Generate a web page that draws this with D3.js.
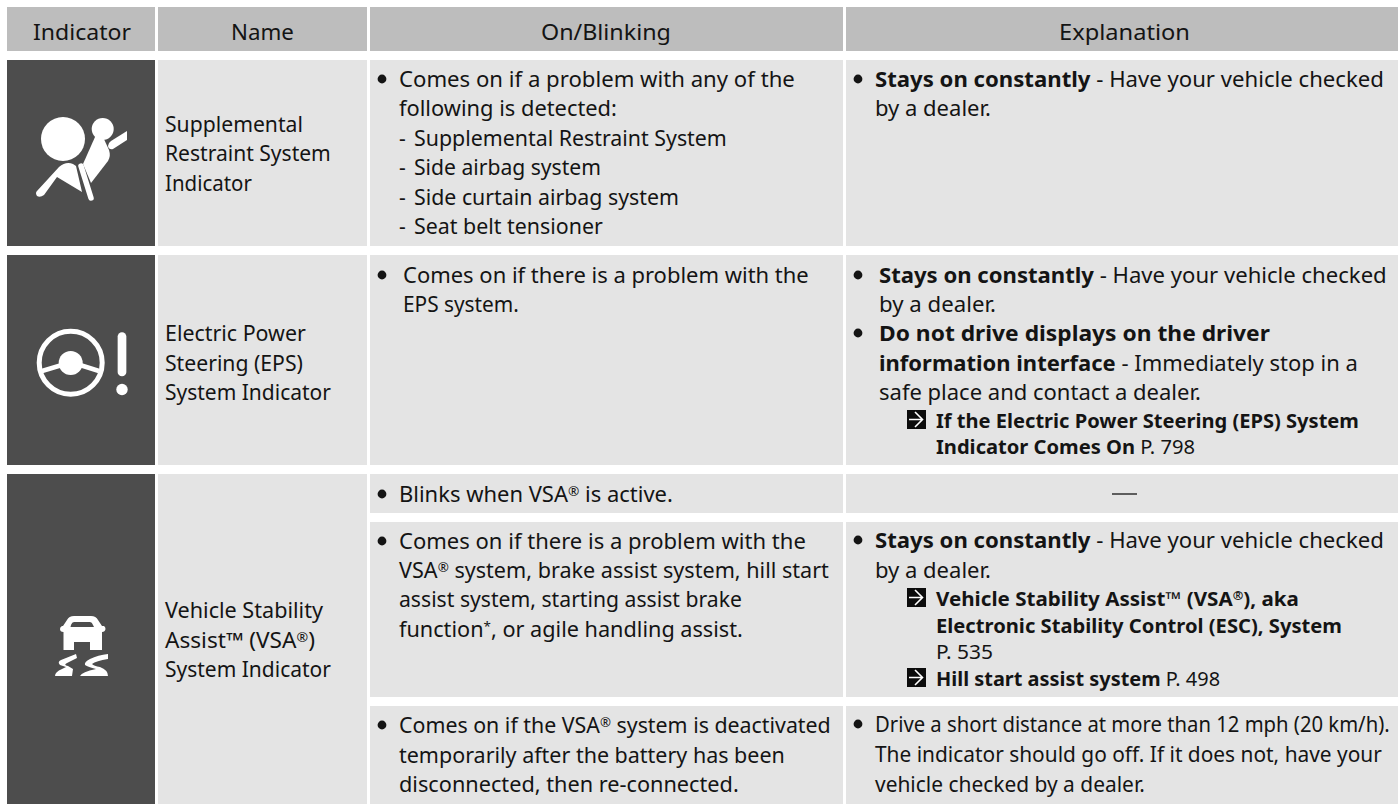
<!DOCTYPE html>
<html><head><meta charset="utf-8">
<script src="https://cdn.jsdelivr.net/npm/d3@7"></script>
<style>html,body{margin:0;padding:0;background:#fff}svg{display:block}</style>
</head><body><svg id="c" width="1398" height="804"></svg>
<script>
const headers = ["Indicator","Name","On/Blinking","Explanation"];
const names = [
  ["Supplemental","Restraint System","Indicator"],
  ["Electric Power","Steering (EPS)","System Indicator"],
  ["Vehicle Stability","Assist™ (VSA®)","System Indicator"]
];
const onBlinking = [
  ["• Comes on if a problem with any of the","following is detected:","- Supplemental Restraint System","- Side airbag system","- Side curtain airbag system","- Seat belt tensioner"],
  ["• Comes on if there is a problem with the","EPS system."],
  ["• Blinks when VSA® is active."],
  ["• Comes on if there is a problem with the","VSA® system, brake assist system, hill start","assist system, starting assist brake","function*, or agile handling assist."],
  ["• Comes on if the VSA® system is deactivated","temporarily after the battery has been","disconnected, then re-connected."]
];
const explanation = [
  ["• **Stays on constantly** - Have your vehicle checked","by a dealer."],
  ["• **Stays on constantly** - Have your vehicle checked","by a dealer.","• **Do not drive displays on the driver**","**information interface** - Immediately stop in a","safe place and contact a dealer.",">**If the Electric Power Steering (EPS) System**","|**Indicator Comes On** P. 798"],
  ["—"],
  ["• **Stays on constantly** - Have your vehicle checked","by a dealer.",">**Vehicle Stability Assist™ (VSA®), aka**","|**Electronic Stability Control (ESC), System**","|P. 535",">**Hill start assist system** P. 498"],
  ["• Drive a short distance at more than 12 mph (20 km/h).","The indicator should go off. If it does not, have your","vehicle checked by a dealer."]
];

// ---- layout (pixels measured on the page, separate from the content above)
const svg = d3.select("#c");
const FONT = "'Noto Sans', sans-serif", FS = 21, FSREF = 19.2, INK = "#141414";
const colX = [[7,155],[158,367],[370,843],[846,1398]];
const rowY = [[60,246],[255,465],[474,804]];
const subY = [[60,246],[255,465],[474,513],[522,697],[706,804]];
const headerEnds = [[33,131],[231,294],[541,671],[1059,1190]];
const nameBase = [[131.5,161,190.5],[341,371,400],[618,648,677]];
const nameEnds = [[303,331,252],[306,303,331],[323,315,331]];
const obX = [399,403,399,399,399];
const obBase = [[87,116,146,175,204.5,234],[283,312],[502],[549,578,607,637],[733,763,792]];
const obEnds = [[795,617,727,601,679,603],[809,519],[673],[806,829,742,743],[831,785,739]];
const exX = [875,879,0,875,875];
const exBase = [[87,116],[283,312,341,371,400,428,454],[],[548,578,606,633,659,686],[732,762,792]];
const exEnds = [[1384,991],[1387,996,1270,1358,1201,1359,1195],[],[1384,991,1299,1342,993,1220],[1390,1382,1145]];

const rect=(x0,x1,y0,y1,f)=>svg.append("rect").attr("x",x0).attr("y",y0).attr("width",x1-x0).attr("height",y1-y0).attr("fill",f);

function addRuns(t, str, fs){
  let back=0;
  str.split("**").forEach((seg,i)=>{
    if(!seg) return;
    seg.split(/([®*])/).forEach(p=>{
      if(!p) return;
      const ts=t.append("tspan").attr("font-weight",i%2?700:400).text(p);
      if(p==="®"||p==="*"){
        ts.attr("font-size",fs*0.62).attr("dy",-fs*0.3);
        back=fs*0.3;
      } else if(back){ ts.attr("dy",back); back=0; }
    });
  });
}
function fitted(str,x,y,end,fs){
  const t=svg.append("text").attr("font-family",FONT).attr("font-size",fs).attr("fill",INK).attr("xml:space","preserve").style("white-space","pre");
  addRuns(t,str,fs);
  const n=t.node().getComputedTextLength();
  t.attr("transform",`translate(${x},${y}) scale(${(end-x)/n},1)`);
  return t;
}
function drawLine(str,x,y,end,bulletX){
  if(str.startsWith("• ")){
    svg.append("circle").attr("cx",bulletX).attr("cy",y-8).attr("r",4.4).attr("fill",INK);
    str=str.slice(2);
  }
  let tx=x, fs=FS;
  if(str[0]===">"||str[0]==="|"){
    tx=936; fs=FSREF;
    if(str[0]===">"){
      const a=y-18;
      svg.append("rect").attr("x",907).attr("y",a).attr("width",19).attr("height",19).attr("fill","#0c0c0c");
      svg.append("path").attr("d",`M909 ${a+9.5}H922M915 ${a+2}L922.5 ${a+9.5}L915 ${a+17}`).attr("fill","none").attr("stroke","#fff").attr("stroke-width",1.6);
    }
    str=str.slice(1);
  }
  if(str.startsWith("- ")){
    svg.append("text").attr("x",tx).attr("y",y).attr("font-family",FONT).attr("font-size",fs).attr("fill",INK).text("-");
    tx+=15; str=str.slice(2);
  }
  fitted(str,tx,y,end,fs);
}

// header band
headers.forEach((h,i)=>{
  rect(colX[i][0],colX[i][1],7,51,"#bdbdbd");
  fitted(h,headerEnds[i][0],40,headerEnds[i][1],FS);
});
// cell backgrounds
rowY.forEach(r=>{ rect(colX[0][0],colX[0][1],r[0],r[1],"#4d4d4d"); rect(colX[1][0],colX[1][1],r[0],r[1],"#e4e4e4"); });
subY.forEach(r=>{ rect(colX[2][0],colX[2][1],r[0],r[1],"#e4e4e4"); rect(colX[3][0],colX[3][1],r[0],r[1],"#e4e4e4"); });
// text columns
names.forEach((n,i)=>n.forEach((l,j)=>drawLine(l,165,nameBase[i][j],nameEnds[i][j])));
onBlinking.forEach((c,i)=>c.forEach((l,j)=>drawLine(l,obX[i],obBase[i][j],obEnds[i][j],382)));
explanation.forEach((c,i)=>{
  if(i===2){ svg.append("line").attr("x1",1112).attr("x2",1137).attr("y1",494).attr("y2",494).attr("stroke",INK).attr("stroke-width",1.3); return; }
  c.forEach((l,j)=>drawLine(l,exX[i],exBase[i][j],exEnds[i][j],858));
});

// indicator icons
const g=svg.append("g").attr("fill","#fff");
// airbag
g.append("circle").attr("cx",63).attr("cy",139).attr("r",22);
g.append("circle").attr("cx",102.7).attr("cy",129).attr("r",11);
g.append("path").attr("d","M127 131V140L113 149Q109 150 108 146Q108 143 111 141Z");
g.append("path").attr("d","M95 137Q99 132 103 137L109 150Q111 156 108 161L91 183L83 164Z");
g.append("path").attr("d","M37 191L59 167Q66 161 73 164L76 166L82 192L57 177L44 195Q40 198 37 196Q35 193 37 191Z");
g.append("path").attr("fill","none").attr("stroke","#fff").attr("stroke-width",5.5).attr("stroke-linecap","round").attr("d","M81 166L91 198");
// steering wheel + exclamation
g.append("circle").attr("cx",70.7).attr("cy",362.7).attr("r",31.5).attr("fill","none").attr("stroke","#fff").attr("stroke-width",5);
g.append("circle").attr("cx",70.7).attr("cy",363).attr("r",12);
g.append("path").attr("fill","none").attr("stroke","#fff").attr("stroke-width",4.5).attr("d","M42 371L62 365M80 365L99 371");
g.append("path").attr("fill","none").attr("stroke","#fff").attr("stroke-width",8.7).attr("stroke-linecap","round").attr("d","M122 336.5V372");
g.append("circle").attr("cx",122).attr("cy",389.5).attr("r",5.7);
// skidding car
g.append("path").attr("fill-rule","evenodd").attr("d",
 "M74 616H91Q96 616 98 620L102 626H104Q105.5 627 105.5 629Q105 632 102 632V650H90V642H74V650H63.5V632Q60 632 60 629Q60 627 62 626H63L67 620Q69 616 74 616ZM74 622Q72 622 71 625L70.5 627H94L93 625Q92 622 90 622Z");
g.append("path").attr("d","M76 654L77 658L67 663Q63 665 68 666L73 669L72 676H55Q55 672 62 669L66 667L60 665Q57 662 61 660Z");
g.append("path").attr("d","M108 654V659Q96 661 92 664Q94 666 100 667Q108 670 108 676H80Q82 672 96 669Q88 667 85 665Q84 662 90 659Q98 655 108 654Z");
</script></body></html>
